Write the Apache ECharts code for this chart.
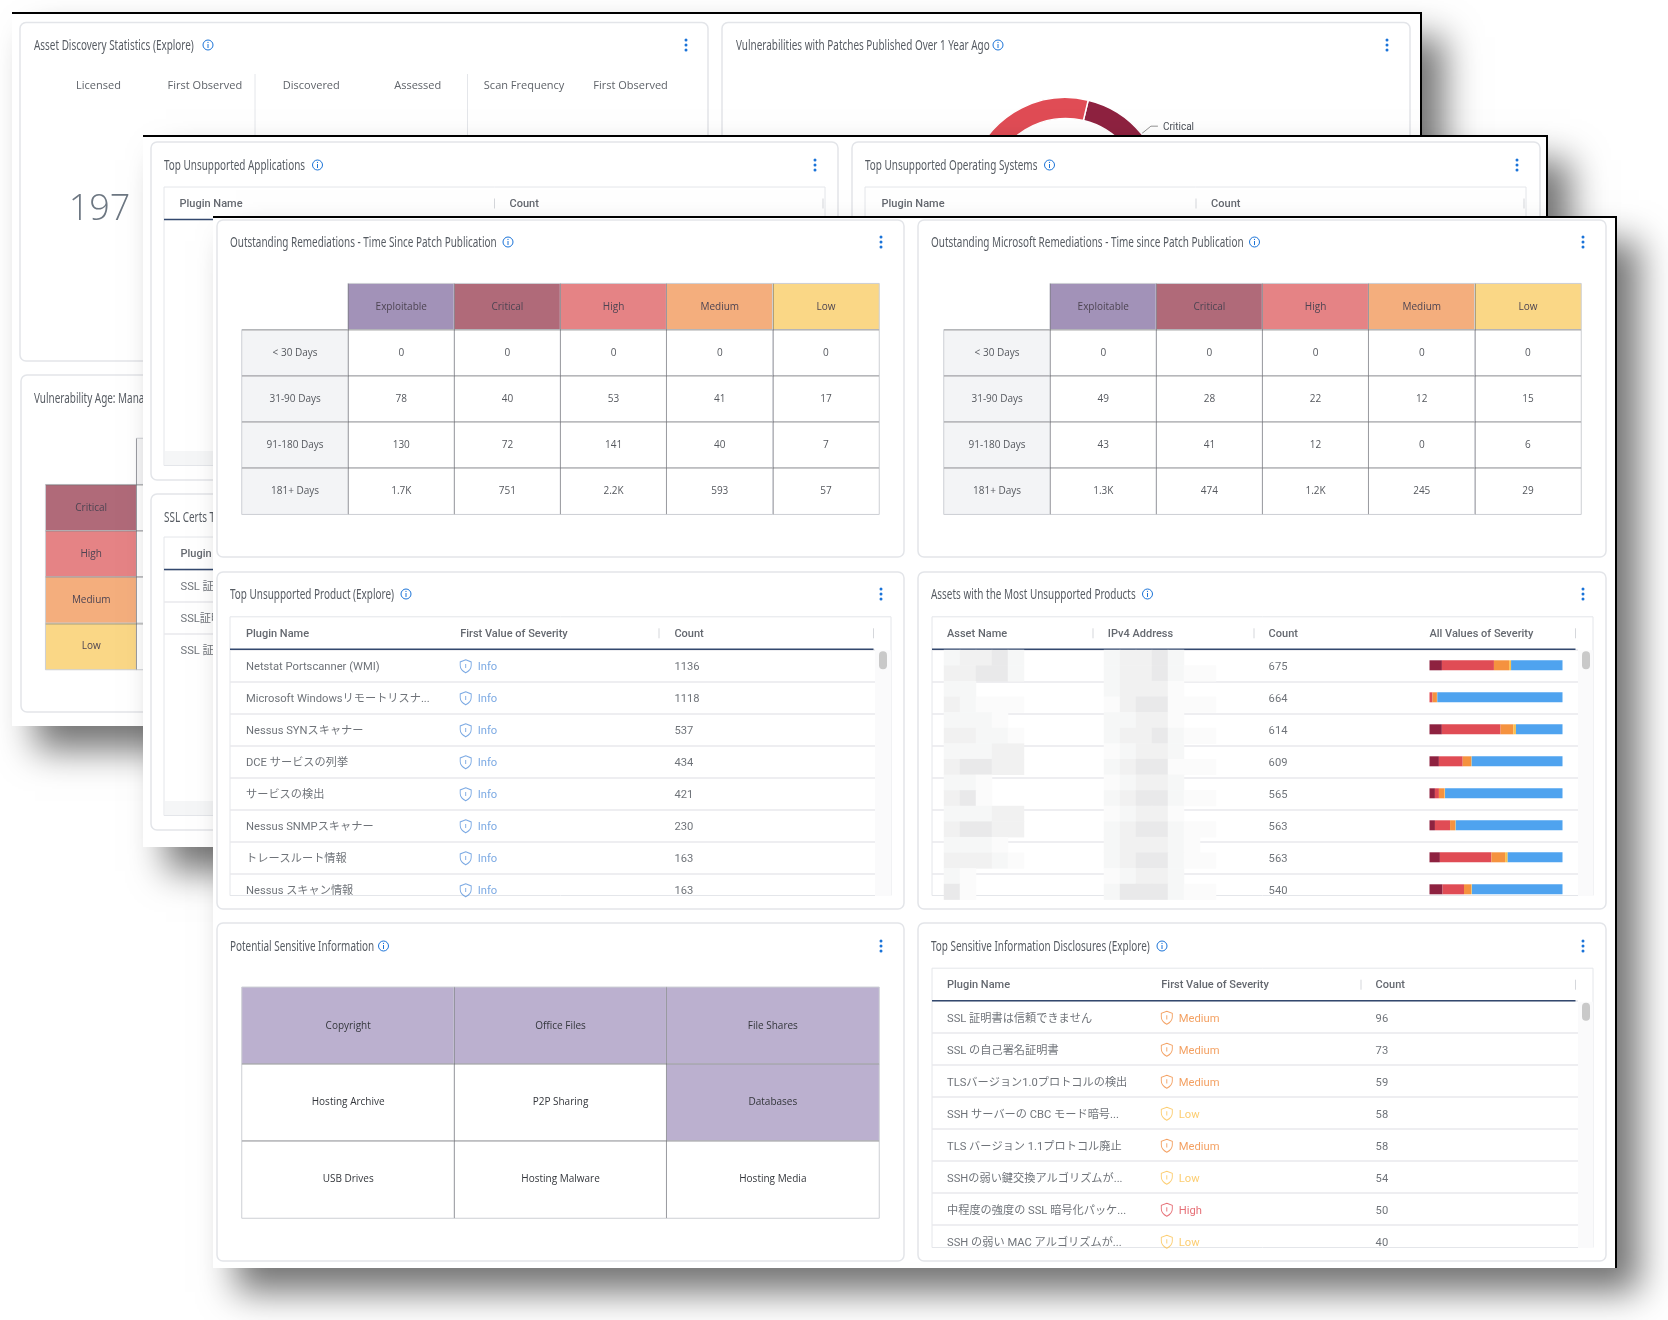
<!DOCTYPE html>
<html>
<head>
<meta charset="utf-8">
<script src="https://cdn.jsdelivr.net/npm/echarts@6/dist/echarts.min.js"></script>
<style>
html, body { margin: 0; background: #fff; }
#main { width: 1668px; height: 1320px; }
</style>
</head>
<body>
<div id="main"></div>
<script>
var severityNames = ['Exploitable', 'Critical', 'High', 'Medium', 'Low'];
var ageBuckets = ['< 30 Days', '31-90 Days', '91-180 Days', '181+ Days'];
var remediationValues = [[0, 0, 0, 0, 0], [78, 40, 53, 41, 17], [130, 72, 141, 40, 7], [1700, 751, 2200, 593, 57]];
var microsoftValues = [[0, 0, 0, 0, 0], [49, 28, 22, 12, 15], [43, 41, 12, 0, 6], [1300, 474, 1200, 245, 29]];

var productNames = ['Netstat Portscanner (WMI)', 'Microsoft Windowsリモートリスナ...', 'Nessus SYNスキャナー', 'DCE サービスの列挙', 'サービスの検出', 'Nessus SNMPスキャナー', 'トレースルート情報', 'Nessus スキャン情報'];
var productSeverity = ['Info', 'Info', 'Info', 'Info', 'Info', 'Info', 'Info', 'Info'];
var productCounts = [1136, 1118, 537, 434, 421, 230, 163, 163];

var assetCounts = [675, 664, 614, 609, 565, 563, 563, 540];
var assetCritical = [63, 0, 57, 43, 23, 23, 44, 53];
var assetHigh = [264, 15, 271, 109, 17, 64, 218, 87];
var assetMedium = [77, 22, 59, 38, 24, 21, 58, 29];
var assetLow = [10, 2, 12, 3, 2, 3, 11, 3];
var assetInfo = [261, 625, 215, 416, 499, 452, 232, 368];

var sensitiveLabels = [['Copyright', 'Office Files', 'File Shares'], ['Hosting Archive', 'P2P Sharing', 'Databases'], ['USB Drives', 'Hosting Malware', 'Hosting Media']];
var sensitiveHits = [[1, 1, 1], [0, 0, 1], [0, 0, 0]];

var disclosureNames = ['SSL 証明書は信頼できません', 'SSL の自己署名証明書', 'TLSバージョン1.0プロトコルの検出', 'SSH サーバーの CBC モード暗号...', 'TLS バージョン 1.1プロトコル廃止', 'SSHの弱い鍵交換アルゴリズムが...', '中程度の強度の SSL 暗号化パッケ...', 'SSH の弱い MAC アルゴリズムが...'];
var disclosureSeverity = ['Medium', 'Medium', 'Medium', 'Low', 'Medium', 'Low', 'High', 'Low'];
var disclosureCounts = [96, 73, 59, 58, 58, 54, 50, 40];

var sslNames = ['SSL 証明書は信頼できません', 'SSL証明書の有効期限', 'SSL 証明書の署名'];
var assetStatLabels = ['Licensed', 'First Observed', 'Discovered', 'Assessed', 'Scan Frequency', 'First Observed'];
var assetStatValue = '197';
var patchSliceNames = ['Critical', 'Low', 'Medium', 'High'];
var patchSliceValues = [751, 57, 593, 2200];
var ageSeverities = ['Critical', 'High', 'Medium', 'Low'];

// blurred-out host names and addresses, grey level per block
var hostBlocks = ['23342', '33442', '22000', '32111', '22210', '33221', '22233', '34433', '22100', '34100', '22233', '34433', '22210', '33321', '21000', '41000'];
var addressBlocks = ['2334200', '2334211', '2333100', '1344111', '2233100', '2334211', '1233200', '2344111', '1233200', '2344211', '1233100', '2344211', '2333210', '2344211', '1233200', '2444211'];

var bodyFont = 'Roboto, "Noto Sans CJK JP", sans-serif';
var chartFont = '"Open Sans", sans-serif';
var titleFont = '"Noto Sans", sans-serif';
var severityColor = { Exploitable: '#a292b8', Critical: '#b06a79', High: '#e58385', Medium: '#f4ae7d', Low: '#fad786' };
var textSeverity = { Info: '#5a94dc', Medium: '#f08a3c', Low: '#fbc04d', High: '#e04c55' };
var blockGrey = ['#ffffff', '#fbfbfb', '#f6f7f7', '#f1f1f1', '#e9e9ea'];
var shieldPath = 'path://M12 1 L23 5 V12 C23 18 18 23 12 26 C6 23 1 18 1 12 V5 Z M12 9 V17';
var kebabBlue = '#1a73d8';

var grids = [], xAxes = [], yAxes = [], series = [], shapes = [];

function layer(x, y, right, bottom, z) {
    shapes.push({ type: 'rect', z: z, silent: true, shape: { x: x, y: y, width: right - x, height: bottom - y },
        style: { fill: '#fff', shadowBlur: 34, shadowColor: 'rgba(0,0,0,0.55)', shadowOffsetX: 23, shadowOffsetY: 24 } });
    shapes.push({ type: 'rect', z: z + 1, silent: true, shape: { x: x, y: y - 1, width: right - x + 1, height: 2 }, style: { fill: '#000' } });
    shapes.push({ type: 'rect', z: z + 1, silent: true, shape: { x: right - 1, y: y - 1, width: 2, height: bottom - y + 1 }, style: { fill: '#000' } });
}

function card(x, y, right, bottom, z) {
    shapes.push({ type: 'rect', z: z + 1, silent: true, shape: { x: x, y: y, width: right - x, height: bottom - y, r: 6 },
        style: { fill: '#fff', stroke: '#e3e5e9', lineWidth: 1.5 } });
}

function label(text, x, y, font, fill, z, align) {
    shapes.push({ type: 'text', z: z, silent: true, style: { text: text, x: x, y: y, font: font, fill: fill, align: align || 'left', verticalAlign: 'middle' } });
}

function cardHeader(title, x, y, infoX, kebabX, z) {
    // the dashboard uses a condensed face, squeeze the installed one to the same run length
    shapes.push({ type: 'text', z: z + 4, silent: true, x: x, y: y + 1, scaleX: 0.662, style: { text: title, x: 0, y: 0, font: '15px ' + titleFont, fill: '#565b62', align: 'left', verticalAlign: 'middle' } });
    shapes.push({ type: 'circle', z: z + 4, silent: true, shape: { cx: infoX, cy: y, r: 5 }, style: { fill: 'none', stroke: kebabBlue, lineWidth: 1 } });
    shapes.push({ type: 'line', z: z + 4, silent: true, shape: { x1: infoX, y1: y - 1, x2: infoX, y2: y + 3 }, style: { stroke: kebabBlue, lineWidth: 1 } });
    shapes.push({ type: 'circle', z: z + 4, silent: true, shape: { cx: infoX, cy: y - 2.6, r: 0.6 }, style: { fill: kebabBlue } });
    [-5, 0, 5].forEach(function (d) {
        shapes.push({ type: 'circle', z: z + 4, silent: true, shape: { cx: kebabX, cy: y + d, r: 1.5 }, style: { fill: kebabBlue } });
    });
}

function heatGrid(box, cells, z) {
    var gi = grids.length;
    grids.push({ left: box.left, top: box.top, width: box.width, height: box.height, show: false });
    var lines = function (color, width) {
        return { show: true, interval: 0, showMinLine: false, showMaxLine: false, lineStyle: { color: color, width: width } };
    };
    xAxes.push({ type: 'category', gridIndex: gi, data: box.cols, z: z + 3, axisLine: { show: false }, axisTick: { show: false }, axisLabel: { show: false }, splitLine: lines('rgba(70,70,80,0.38)', 1) });
    yAxes.push({ type: 'category', gridIndex: gi, inverse: true, data: box.rows, z: z + 3, axisLine: { show: false }, axisTick: { show: false }, axisLabel: { show: false }, splitLine: lines('rgba(110,110,110,0.28)', 2) });
    series.push({
        type: 'heatmap', xAxisIndex: gi, yAxisIndex: gi, z: z + 2, silent: true, data: cells,
        itemStyle: { borderColor: '#cdcfd4', borderWidth: 1 },
        label: { show: true, fontFamily: chartFont, fontSize: 10, color: box.textColor || '#55585e', formatter: function (p) { return p.data.text; } }
    });
}

function shortCount(v) {
    return v >= 1000 ? (v / 1000).toFixed(1) + 'K' : String(v);
}

function remediationHeat(left, top, values, z) {
    var cells = [];
    severityNames.forEach(function (name, c) {
        cells.push({ value: [c + 1, 0, 0], text: name, itemStyle: { color: severityColor[name] }, label: { color: '#4d4452' } });
    });
    ageBuckets.forEach(function (bucket, r) {
        cells.push({ value: [0, r + 1, 0], text: bucket, itemStyle: { color: '#f3f4f6' } });
        values[r].forEach(function (v, c) {
            cells.push({ value: [c + 1, r + 1, v], text: shortCount(v), itemStyle: { color: '#fff' } });
        });
    });
    heatGrid({ left: left, top: top, width: 637, height: 230.5, cols: [''].concat(severityNames), rows: [''].concat(ageBuckets) }, cells, z);
}

function table(t) {
    var gi = grids.length, z = t.z, rowCats = [''];
    var rowTotal = t.rowCount !== undefined ? t.rowCount : t.columns[0].values.length;
    for (var i = 0; i < rowTotal; i++) rowCats.push('r' + i);
    grids.push({ left: t.left, top: t.top, width: t.inner - t.left, height: rowCats.length * 32, show: false });
    xAxes.push({ type: 'value', gridIndex: gi, show: false, min: (t.left - t.x0) / t.colW, max: (t.inner - t.x0) / t.colW });
    yAxes.push({ type: 'category', gridIndex: gi, inverse: true, data: rowCats, z: z + 2, axisLine: { show: false }, axisTick: { show: false }, axisLabel: { show: false },
        splitLine: { show: rowCats.length > 1, interval: 0, showMinLine: false, showMaxLine: false, lineStyle: { color: '#e8e9ec', width: 1.5 } } });

    shapes.push({ type: 'rect', z: z + 1, silent: true, shape: { x: t.left, y: t.top - 0.5, width: t.right - t.left, height: t.bottom - t.top }, style: { fill: '#fff', stroke: '#e4e6ea', lineWidth: 1 } });
    shapes.push({ type: 'line', z: z + 3, silent: true, shape: { x1: t.left, y1: t.top + 32, x2: t.lineEnd, y2: t.top + 32 }, style: { stroke: '#33486e', lineWidth: 1.5 } });
    t.seps.forEach(function (x) {
        shapes.push({ type: 'line', z: z + 3, silent: true, shape: { x1: x, y1: t.top + 11, x2: x, y2: t.top + 21 }, style: { stroke: '#d5d7db', lineWidth: 1 } });
    });
    if (t.thumb) {
        shapes.push({ type: 'rect', z: z + 2, silent: true, shape: { x: t.inner, y: t.top + 33, width: t.right - t.inner, height: t.bottom - t.top - 33 }, style: { fill: '#fafafb' } });
        shapes.push({ type: 'rect', z: z + 3, silent: true, shape: { x: t.inner + 4, y: t.top + 34, width: 8, height: 18, r: 4 }, style: { fill: '#c9c9c9' } });
    }
    if (t.footer) {
        shapes.push({ type: 'rect', z: z + 2, silent: true, shape: { x: t.left + 1, y: t.bottom - 15, width: t.right - t.left - 2, height: 14 }, style: { fill: '#f5f6f7' } });
    }

    series.push({
        type: 'scatter', xAxisIndex: gi, yAxisIndex: gi, z: z + 4, silent: true, symbolSize: 1, itemStyle: { color: 'transparent' },
        label: { show: true, position: 'right', distance: 0, offset: [0, 1], fontFamily: bodyFont, fontSize: 11, fontWeight: 500, color: '#3d424b', formatter: function (p) { return p.data.text; } },
        data: t.columns.map(function (col, c) { return { value: [c, 0], text: col.title }; })
    });
    t.columns.forEach(function (col, c) {
        if (!col.values) return;
        if (col.severity) {
            series.push({
                type: 'scatter', xAxisIndex: gi, yAxisIndex: gi, z: z + 4, silent: true, symbol: shieldPath, symbolSize: [11, 13], symbolOffset: [6, 1], clip: false,
                label: { show: true, position: 'right', distance: 6, offset: [0, 1], fontFamily: bodyFont, fontSize: 11.2, formatter: function (p) { return p.data.text; } },
                data: col.values.map(function (v, r) {
                    return { value: [c, r + 1], text: v, itemStyle: { color: 'rgba(255,255,255,0)', borderColor: textSeverity[v], borderWidth: 1 }, label: { color: textSeverity[v] } };
                })
            });
        } else {
            series.push({
                type: 'scatter', xAxisIndex: gi, yAxisIndex: gi, z: z + 4, silent: true, symbolSize: 1, symbolOffset: [0, 1], clip: false, itemStyle: { color: 'transparent' },
                label: { show: true, position: 'right', distance: 0, offset: [0, 1], fontFamily: bodyFont, fontSize: 11.2, color: '#4b5058', formatter: function (p) { return p.data.text; } },
                data: col.values.map(function (v, r) { return { value: [c, r + 1], text: String(v) }; })
            });
        }
    });
    return gi;
}

function severityBars(left, width, top, z) {
    var gi = grids.length, cats = [''].concat(assetCounts.map(function (v, i) { return 'r' + i; }));
    grids.push({ left: left, top: top, width: width, height: cats.length * 32, show: false });
    xAxes.push({ type: 'value', gridIndex: gi, show: false, min: 0, max: 100 });
    yAxes.push({ type: 'category', gridIndex: gi, show: false, inverse: true, data: cats });
    [[assetCritical, '#8e2240'], [assetHigh, '#e04c55'], [assetMedium, '#f5923f'], [assetLow, '#fbc04d'], [assetInfo, '#4fa3ef']].forEach(function (s) {
        series.push({
            type: 'bar', xAxisIndex: gi, yAxisIndex: gi, stack: 'severity', z: z + 4, silent: true, barWidth: 10, itemStyle: { color: s[1] },
            data: ['-'].concat(s[0].map(function (v, i) { return v / assetCounts[i] * 100; }))
        });
    });
}

function blocks(left, top, rows, z) {
    var gi = grids.length, cells = [];
    rows.forEach(function (row, r) {
        row.split('').forEach(function (level, c) {
            if (level !== '0') cells.push({ value: [c, r, +level], itemStyle: { color: blockGrey[+level] } });
        });
    });
    grids.push({ left: left, top: top, width: rows[0].length * 16, height: rows.length * 15.6, show: false });
    xAxes.push({ type: 'category', gridIndex: gi, show: false, data: rows[0].split('').map(function (v, i) { return i; }) });
    yAxes.push({ type: 'category', gridIndex: gi, show: false, inverse: true, data: rows.map(function (v, i) { return i; }) });
    series.push({ type: 'heatmap', xAxisIndex: gi, yAxisIndex: gi, z: z + 5, silent: true, data: cells });
}

/* ---------- back sheet ---------- */
var Z1 = 10;
layer(12, 13, 1421, 726, Z1);
card(20, 22.5, 708, 361, Z1);
card(722, 22.5, 1410, 361, Z1);
card(21, 375, 708, 712, Z1);
cardHeader('Asset Discovery Statistics (Explore)', 34, 45, 208, 686, Z1);
cardHeader('Vulnerabilities with Patches Published Over 1 Year Ago', 736, 45, 998, 1387, Z1);
cardHeader('Vulnerability Age: Managing Vulnerabilities', 34, 397.5, 260, 686, Z1);
assetStatLabels.forEach(function (text, i) {
    label(text, 98.5 + i * 106.4, 86, '11px ' + chartFont, '#5f6369', Z1 + 4, 'center');
});
label(assetStatValue, 99.5, 210, '300 36px ' + chartFont, '#6d7782', Z1 + 4, 'center');
[255, 467.5].forEach(function (x) {
    shapes.push({ type: 'line', z: Z1 + 4, silent: true, shape: { x1: x, y1: 74, x2: x, y2: 136 }, style: { stroke: '#e4e6ea', lineWidth: 1 } });
});
series.push({
    type: 'pie', z: Z1 + 4, silent: true, center: [1065.5, 195.5], radius: [77, 98], startAngle: 76.6, avoidLabelOverlap: false,
    itemStyle: { borderColor: '#fff', borderWidth: 1.5 },
    label: { fontFamily: bodyFont, fontSize: 10, color: '#4b5058', offset: [0, 1] },
    labelLine: { length: 12, length2: 7, lineStyle: { color: '#777', width: 0.8 } },
    data: patchSliceNames.map(function (name, i) {
        var isFirst = i === 0;
        return { name: name, value: patchSliceValues[i], label: { show: isFirst }, labelLine: { show: isFirst }, itemStyle: { color: { Critical: '#8e2240', High: '#e04c55', Medium: '#f5923f', Low: '#fbc04d' }[name] } };
    })
});
var ageCells = [{ value: [1, 0, 0], itemStyle: { color: '#f6f6f7' }, text: '' }];
ageSeverities.forEach(function (name, r) {
    ageCells.push({ value: [0, r + 1, 0], text: name, itemStyle: { color: severityColor[name] }, label: { color: '#4d4452' } });
    ageCells.push({ value: [1, r + 1, 0], text: '', itemStyle: { color: '#fff' } });
});
heatGrid({ left: 45.7, top: 438.5, width: 182, height: 231, cols: ['', ' '], rows: [''].concat(ageSeverities) }, ageCells, Z1);

/* ---------- middle sheet ---------- */
var Z2 = 20;
layer(143, 136, 1547, 847, Z2);
card(151, 142, 838, 480, Z2);
card(852, 142, 1540, 480, Z2);
card(151, 494, 838, 830, Z2);
cardHeader('Top Unsupported Applications', 164, 165, 317.5, 815, Z2);
cardHeader('Top Unsupported Operating Systems', 865, 165, 1049.5, 1517, Z2);
cardHeader('SSL Certs Trust Issues', 164, 516.5, 320, 815, Z2);
table({ z: Z2 + 2, left: 164, right: 825, inner: 810, bottom: 466, top: 187.5, x0: 179, colW: 330, lineEnd: 823, seps: [494.5, 823], footer: true,
    columns: [{ title: 'Plugin Name' }, { title: 'Count' }], rowCount: 0 });
table({ z: Z2 + 2, left: 865, right: 1526, inner: 1511, bottom: 466, top: 187.5, x0: 881, colW: 329.6, lineEnd: 1524, seps: [1196, 1524],
    columns: [{ title: 'Plugin Name' }, { title: 'Count' }], rowCount: 0 });
table({ z: Z2 + 2, left: 164, right: 825, inner: 810, bottom: 816, top: 537.5, x0: 180, colW: 330, lineEnd: 823, seps: [494.5, 823], footer: true,
    columns: [{ title: 'Plugin Name', values: sslNames }, { title: 'Count' }] });

/* ---------- front sheet ---------- */
var Z3 = 40;
layer(213, 217, 1616, 1268, Z3);
[[217, 904], [918, 1606]].forEach(function (c) {
    card(c[0], 220, c[1], 557, Z3);
    card(c[0], 572, c[1], 909, Z3);
    card(c[0], 923, c[1], 1261, Z3);
});
cardHeader('Outstanding Remediations - Time Since Patch Publication', 230, 242, 508, 881, Z3);
cardHeader('Outstanding Microsoft Remediations - Time since Patch Publication', 931, 242, 1254.5, 1583, Z3);
cardHeader('Top Unsupported Product (Explore)', 230, 594, 406, 881, Z3);
cardHeader('Assets with the Most Unsupported Products', 931, 594, 1147.5, 1583, Z3);
cardHeader('Potential Sensitive Information', 230, 946, 383.5, 881, Z3);
cardHeader('Top Sensitive Information Disclosures (Explore)', 931, 946, 1162, 1583, Z3);

remediationHeat(242, 283.7, remediationValues, Z3);
remediationHeat(944, 283.7, microsoftValues, Z3);

table({ z: Z3 + 2, left: 230, right: 891, inner: 875, bottom: 896, top: 617.3, x0: 245.5, colW: 214.2, lineEnd: 873.5, seps: [659, 873.5], thumb: true,
    columns: [{ title: 'Plugin Name', values: productNames }, { title: 'First Value of Severity', values: productSeverity, severity: true }, { title: 'Count', values: productCounts }] });

table({ z: Z3 + 2, left: 932, right: 1593, inner: 1578, bottom: 896, top: 617.3, x0: 946.5, colW: 160.8, lineEnd: 1575.5, seps: [1093, 1254, 1575.5], thumb: true, rowCount: 8,
    columns: [{ title: 'Asset Name' }, { title: 'IPv4 Address' }, { title: 'Count', values: assetCounts }, { title: 'All Values of Severity' }] });
severityBars(1429.5, 133, 617.3, Z3 + 2);
blocks(944, 650, hostBlocks, Z3 + 2);
blocks(1104, 650, addressBlocks, Z3 + 2);

var sensitiveCells = [];
sensitiveLabels.forEach(function (row, r) {
    row.forEach(function (text, c) {
        sensitiveCells.push({ value: [c, r, sensitiveHits[r][c]], text: text, itemStyle: { color: sensitiveHits[r][c] ? '#bbb0cf' : '#fff' } });
    });
});
heatGrid({ left: 242, top: 987.3, width: 637, height: 230.7, cols: ['a', 'b', 'c'], rows: ['a', 'b', 'c'], textColor: '#33363b' }, sensitiveCells, Z3);

table({ z: Z3 + 2, left: 932, right: 1593, inner: 1578, bottom: 1248, top: 968.7, x0: 946.5, colW: 214.3, lineEnd: 1575.5, seps: [1361, 1575.5], thumb: true,
    columns: [{ title: 'Plugin Name', values: disclosureNames }, { title: 'First Value of Severity', values: disclosureSeverity, severity: true }, { title: 'Count', values: disclosureCounts }] });

var myChart = echarts.init(document.getElementById('main'));
myChart.setOption({
    animation: false,
    backgroundColor: '#fff',
    grid: grids,
    xAxis: xAxes,
    yAxis: yAxes,
    series: series,
    graphic: { elements: shapes }
});
</script>
</body>
</html>
